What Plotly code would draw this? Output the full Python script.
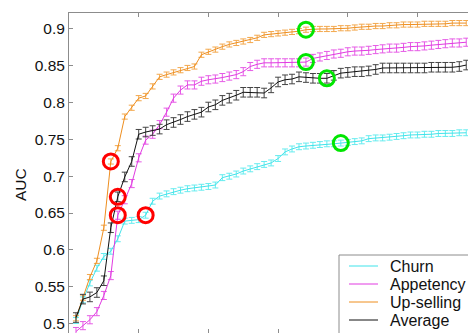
import plotly.graph_objects as go

# Step index along the horizontal axis (one point per step)
steps = list(range(1, 58))

churn = [0.504, 0.532, 0.555, 0.575, 0.591, 0.598, 0.615, 0.639, 0.640, 0.641,
         0.647, 0.666, 0.673, 0.676, 0.679, 0.681, 0.683, 0.684, 0.685, 0.686,
         0.688, 0.698, 0.700, 0.703, 0.707, 0.710, 0.713, 0.716, 0.718, 0.724,
         0.733, 0.737, 0.740, 0.741, 0.742, 0.743, 0.744, 0.744, 0.745, 0.746,
         0.747, 0.748, 0.751, 0.752, 0.752, 0.753, 0.754, 0.755, 0.756, 0.756,
         0.757, 0.757, 0.758, 0.758, 0.758, 0.759, 0.759]

appetency = [0.489, 0.497, 0.505, 0.516, 0.538, 0.565, 0.647, 0.668, 0.690, 0.725,
             0.749, 0.757, 0.770, 0.787, 0.806, 0.817, 0.824, 0.824, 0.829, 0.831,
             0.832, 0.834, 0.836, 0.838, 0.842, 0.849, 0.852, 0.854, 0.854, 0.854,
             0.854, 0.854, 0.854, 0.855, 0.860, 0.862, 0.864, 0.866, 0.867, 0.869,
             0.870, 0.870, 0.871, 0.872, 0.873, 0.874, 0.874, 0.875, 0.876, 0.876,
             0.877, 0.878, 0.879, 0.880, 0.881, 0.881, 0.882]

upselling = [0.507, 0.535, 0.563, 0.585, 0.630, 0.720, 0.738, 0.781, 0.793, 0.806,
             0.809, 0.822, 0.835, 0.838, 0.841, 0.844, 0.847, 0.849, 0.865, 0.869,
             0.872, 0.876, 0.879, 0.881, 0.883, 0.885, 0.888, 0.892, 0.893, 0.894,
             0.895, 0.896, 0.897, 0.899, 0.900, 0.900, 0.900, 0.900, 0.901, 0.901,
             0.902, 0.903, 0.903, 0.904, 0.904, 0.905, 0.905, 0.906, 0.906, 0.906,
             0.907, 0.907, 0.907, 0.907, 0.908, 0.908, 0.908]

average = [0.508, 0.533, 0.536, 0.542, 0.558, 0.630, 0.672, 0.699, 0.720, 0.757,
           0.760, 0.762, 0.764, 0.770, 0.773, 0.777, 0.781, 0.784, 0.787, 0.794,
           0.797, 0.803, 0.806, 0.810, 0.814, 0.814, 0.814, 0.813, 0.820, 0.828,
           0.831, 0.832, 0.835, 0.834, 0.833, 0.833, 0.833, 0.837, 0.840, 0.841,
           0.842, 0.842, 0.843, 0.845, 0.847, 0.847, 0.847, 0.847, 0.847, 0.847,
           0.847, 0.848, 0.848, 0.848, 0.848, 0.849, 0.851]

# Half-width of the error bar for each task
err_churn = 0.004
err_appetency = 0.0055
err_upselling = 0.0035
err_average = 0.0065

# Points highlighted with circles (index into each series)
red_points = {"Churn": 10, "Appetency": 6, "Up-selling": 5, "Average": 6}
green_points = {"Churn": 38, "Appetency": 33, "Up-selling": 33, "Average": 36}

y_ticks = [0.5, 0.55, 0.6, 0.65, 0.7, 0.75, 0.8, 0.85, 0.9]
y_tick_text = ["0.5", "0.55", "0.6", "0.65", "0.7", "0.75", "0.8", "0.85", "0.9"]

series = [
    ("Churn", churn, err_churn, "#3FE3EA", "#66ECEF"),
    ("Appetency", appetency, err_appetency, "#E13AE1", "#E65BE6"),
    ("Up-selling", upselling, err_upselling, "#EE8E1F", "#F3A84D"),
    ("Average", average, err_average, "#111111", "#444444"),
]

fig = go.Figure()
for name, vals, err, color, ecolor in series:
    fig.add_trace(go.Scatter(
        x=steps, y=vals, name=name, mode="lines", showlegend=False,
        line=dict(color=color, width=1),
        error_y=dict(type="constant", value=err, color=ecolor,
                     thickness=1, width=3),
    ))

lookup = {name: vals for name, vals, *_ in series}

fig.add_trace(go.Scatter(
    x=[steps[i] for i in red_points.values()],
    y=[lookup[n][i] for n, i in red_points.items()],
    mode="markers", showlegend=False, hoverinfo="skip",
    marker=dict(symbol="circle-open", size=15, color="#FF0000",
                line=dict(width=3, color="#FF0000")),
))
fig.add_trace(go.Scatter(
    x=[steps[i] for i in green_points.values()],
    y=[lookup[n][i] for n, i in green_points.items()],
    xaxis="x2",
    mode="markers", showlegend=False, hoverinfo="skip",
    marker=dict(symbol="circle-open", size=15, color="#00E600",
                line=dict(width=3, color="#00E600")),
))

# Plot area in pixels: left 69, top 13, width 399, height 320
def px_x(px):
    return (px - 69) / 399


def px_y(py):
    return (333 - py) / 320


axis_gray = "#8C8C8C"

# Legend box, drawn by hand so it can run past the lower-right corner
shapes = [dict(type="rect", xref="paper", yref="paper", layer="above",
               x0=px_x(339), x1=px_x(480), y0=px_y(345), y1=px_y(255),
               line=dict(color=axis_gray, width=1), fillcolor="white")]
annotations = []
for k, (name, _vals, _err, color, _ecolor) in enumerate(series):
    row_y = px_y(266 + 18 * k)
    shapes.append(dict(type="line", xref="paper", yref="paper", layer="above",
                       x0=px_x(349), x1=px_x(378), y0=row_y, y1=row_y,
                       line=dict(color=color, width=1)))
    annotations.append(dict(text=name, xref="paper", yref="paper",
                            x=px_x(388), y=row_y, xanchor="left",
                            yanchor="middle", showarrow=False,
                            font=dict(size=16)))

annotations.append(dict(text="AUC", textangle=-90, xref="paper", yref="paper",
                        x=-49 / 399, y=px_y(185), showarrow=False,
                        font=dict(size=15.5), xanchor="center",
                        yanchor="middle"))

fig.update_layout(
    width=468, height=333,
    margin=dict(l=69, r=0, t=13, b=0),
    paper_bgcolor="white", plot_bgcolor="white",
    font=dict(family="Liberation Sans, Arial, sans-serif", color="#111111"),
    xaxis=dict(range=[0, 57.25], side="top", showline=True, linecolor=axis_gray,
               linewidth=1, ticks="inside", ticklen=4, tickcolor=axis_gray,
               tick0=0, dtick=10, showticklabels=False, showgrid=False,
               zeroline=False),
    xaxis2=dict(matches="x", overlaying="x", side="bottom", showline=False,
                ticks="inside", ticklen=4, tickcolor=axis_gray, tick0=0,
                dtick=10, showticklabels=False, showgrid=False, zeroline=False),
    yaxis=dict(range=[0.487, 0.9217], showline=True, linecolor=axis_gray,
               linewidth=1, ticks="inside", ticklen=4, tickcolor=axis_gray,
               tickvals=y_ticks, ticktext=y_tick_text,
               tickfont=dict(size=15.5), showgrid=False, zeroline=False),
    shapes=shapes,
    annotations=annotations,
    showlegend=False,
)

fig.write_html("out.html")
